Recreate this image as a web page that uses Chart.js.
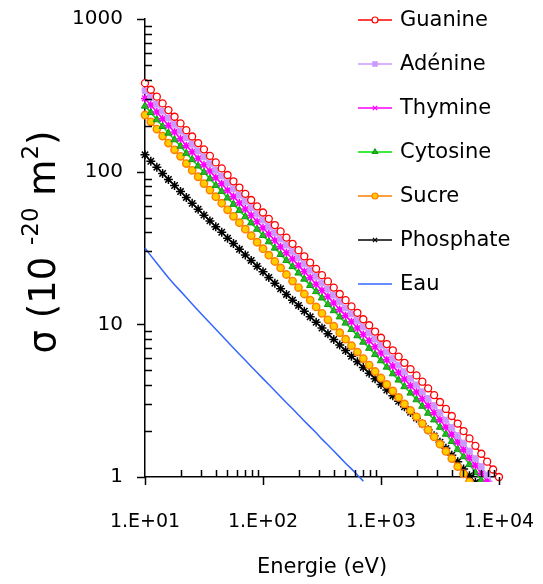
<!DOCTYPE html>
<html>
<head>
<meta charset="utf-8">
<script src="https://cdn.jsdelivr.net/npm/chart.js@4.4.1/dist/chart.umd.min.js"></script>
<style>
  html, body { margin: 0; padding: 0; background: #fff; }
  #wrap { width: 543px; height: 584px; position: relative; }
</style>
</head>
<body>
<div id="wrap"><canvas id="myChart"></canvas></div>
<script>
// énergie (eV), grille commune à toutes les séries
const energies = [10, 11.2, 12.6, 14.1, 15.8, 17.8, 20, 22.4, 25.1, 28.2,
  31.6, 35.5, 39.8, 44.7, 50.1, 56.2, 63.1, 70.8, 79.4, 89.1,
  100, 112, 126, 141, 158, 178, 200, 224, 251, 282,
  316, 355, 398, 447, 501, 562, 631, 708, 794, 891,
  1000, 1120, 1260, 1410, 1580, 1780, 2000, 2240, 2510, 2820,
  3160, 3550, 3980, 4470, 5010, 5620, 6310, 7080, 7940, 8910, 10000];

// sections efficaces (10^-20 m^2)
const guanine = [380, 344, 310, 280, 253, 229, 207, 187, 170, 154,
  140, 127, 115, 105, 95.1, 86.5, 78.7, 71.6, 65.2, 59.3,
  54.0, 49.1, 44.7, 40.6, 37.0, 33.7, 30.6, 27.9, 25.4, 23.1,
  21.0, 19.1, 17.4, 15.8, 14.4, 13.1, 11.9, 10.8, 9.86, 8.97,
  8.17, 7.43, 6.76, 6.15, 5.60, 5.09, 4.63, 4.21, 3.81, 3.44,
  3.10, 2.79, 2.51, 2.24, 2.00, 1.79, 1.60, 1.42, 1.26, 1.12, 1.00];
const adenine = [339, 306, 276, 249, 225, 204, 184, 167, 151, 137,
  125, 113, 102, 93.6, 84.7, 77.1, 70.1, 63.8, 58.1, 52.8,
  48.1, 43.7, 39.8, 36.2, 33.0, 30.0, 27.3, 24.9, 22.6, 20.6,
  18.7, 17.0, 15.5, 14.1, 12.8, 11.7, 10.6, 9.62, 8.79, 7.99,
  7.28, 6.59, 5.97, 5.41, 4.90, 4.43, 4.01, 3.62, 3.27, 2.94,
  2.64, 2.36, 2.11, 1.87, 1.67, 1.48, 1.32, 1.17, 1.03, 0.91];
const thymine = [302, 273, 246, 222, 201, 182, 164, 148, 135, 122,
  111, 101, 91.3, 83.4, 75.5, 68.7, 62.5, 56.9, 51.8, 47.1,
  42.9, 39.0, 35.5, 32.2, 29.4, 26.8, 24.3, 22.2, 20.2, 18.3,
  16.7, 15.2, 13.8, 12.5, 11.4, 10.4, 9.45, 8.58, 7.83, 7.12,
  6.49, 5.87, 5.33, 4.83, 4.38, 3.96, 3.60, 3.25, 2.93, 2.64,
  2.37, 2.12, 1.90, 1.69, 1.51, 1.34, 1.19, 1.06, 0.94];
const cytosine = [269, 244, 219, 198, 179, 162, 147, 132, 120, 109,
  99.1, 89.9, 81.4, 74.3, 67.3, 61.2, 55.7, 50.7, 46.2, 42.0,
  38.2, 34.8, 31.6, 28.7, 26.2, 23.9, 21.7, 19.8, 18.0, 16.4,
  14.9, 13.5, 12.3, 11.2, 10.2, 9.27, 8.43, 7.65, 6.98, 6.35,
  5.78, 5.25, 4.75, 4.32, 3.91, 3.55, 3.21, 2.91, 2.62, 2.37,
  2.12, 1.91, 1.71, 1.52, 1.36, 1.21, 1.07, 0.95];
const sucre = [235, 212, 190, 171, 154, 139, 126, 113, 102, 92.6,
  83.6, 75.7, 68.5, 62.1, 56.2, 51.0, 46.3, 42.0, 38.1, 34.5,
  31.3, 28.4, 25.8, 23.4, 21.2, 19.2, 17.4, 15.8, 14.4, 13.0,
  11.8, 10.7, 9.72, 8.81, 7.99, 7.25, 6.58, 5.97, 5.41, 4.91,
  4.45, 4.04, 3.66, 3.32, 3.01, 2.73, 2.48, 2.24, 2.03, 1.83,
  1.64, 1.47, 1.32, 1.17, 1.05, 0.93];
const phosphate = [129, 117, 107, 97.4, 88.9, 81.2, 74.1, 67.8, 62.0, 56.8,
  51.9, 47.6, 43.6, 40.1, 36.7, 33.8, 31.0, 28.5, 26.2, 24.0,
  22.1, 20.3, 18.6, 17.1, 15.7, 14.4, 13.3, 12.2, 11.2, 10.3,
  9.45, 8.68, 7.97, 7.32, 6.73, 6.18, 5.68, 5.22, 4.79, 4.40,
  4.04, 3.71, 3.41, 3.13, 2.88, 2.65, 2.43, 2.23, 2.04, 1.86,
  1.69, 1.54, 1.39, 1.26, 1.13, 1.02, 0.92];
const eau = [31.6, 28.2, 25.1, 22.5, 20.2, 18.2, 16.5, 15.0, 13.6, 12.3,
  11.2, 10.2, 9.29, 8.45, 7.69, 7.00, 6.37, 5.81, 5.30, 4.83,
  4.41, 4.03, 3.67, 3.36, 3.06, 2.80, 2.55, 2.33, 2.13, 1.95,
  1.77, 1.62, 1.48, 1.35, 1.23, 1.13, 1.03, 0.94];

// graduations
const xTickValues = [10, 100, 1000, 10000];
const xTickLabels = ["1.E+01", "1.E+02", "1.E+03", "1.E+04"];
const yTickValues = [1, 10, 100, 1000];
const yTickLabels = ["1", "10", "100", "1000"];

const FONT = "'Comic Sans MS', 'DejaVu Sans', sans-serif";

function toPoints(values) {
  return values.map((v, i) => ({ x: energies[i], y: v }));
}

// graduations secondaires (2..9 de chaque décade)
function minorTicks(decades) {
  const out = [];
  decades.slice(0, -1).forEach((d) => {
    for (let k = 2; k <= 9; k++) out.push(d * k);
  });
  return out;
}
const xMinor = minorTicks(xTickValues);
const yMinor = minorTicks(yTickValues);

// traits de graduation : principaux vers l'extérieur, secondaires vers l'intérieur
const tickMarksPlugin = {
  id: "tickMarks",
  afterDraw(chart) {
    const { ctx, chartArea: a, scales } = chart;
    const x = scales.x;
    const y = scales.y;
    ctx.save();
    ctx.strokeStyle = "#000";
    ctx.lineWidth = 1.5;
    ctx.beginPath();
    xMinor.forEach((v) => {
      const px = Math.round(x.getPixelForValue(v)) + 0.5;
      ctx.moveTo(px, a.bottom);
      ctx.lineTo(px, a.bottom - 7);
    });
    xTickValues.forEach((v) => {
      const px = Math.round(x.getPixelForValue(v)) + 0.5;
      ctx.moveTo(px, a.bottom);
      ctx.lineTo(px, a.bottom + 8);
    });
    yMinor.forEach((v) => {
      const py = Math.round(y.getPixelForValue(v)) + 0.5;
      ctx.moveTo(a.left, py);
      ctx.lineTo(a.left + 7, py);
    });
    yTickValues.forEach((v) => {
      const py = Math.round(y.getPixelForValue(v)) + 0.5;
      ctx.moveTo(a.left, py);
      ctx.lineTo(a.left - 8, py);
    });
    ctx.stroke();
    ctx.restore();
  },
};

// titre vertical avec exposants
const yTitlePlugin = {
  id: "yTitle",
  afterDraw(chart) {
    const ctx = chart.ctx;
    const parts = [
      { text: "σ (10 ", size: 37, rise: 0 },
      { text: "-20", size: 23, rise: 17 },
      { text: " m", size: 37, rise: 0 },
      { text: "2", size: 23, rise: 17 },
      { text: ")", size: 37, rise: 0 },
    ];
    ctx.save();
    ctx.translate(42, 242);
    ctx.rotate(-Math.PI / 2);
    ctx.fillStyle = "#000";
    ctx.textBaseline = "alphabetic";
    let total = 0;
    parts.forEach((p) => {
      ctx.font = `${p.size}px ${FONT}`;
      p.w = ctx.measureText(p.text).width;
      total += p.w;
    });
    let px = -total / 2;
    parts.forEach((p) => {
      ctx.font = `${p.size}px ${FONT}`;
      ctx.fillText(p.text, px, 13 - p.rise);
      px += p.w;
    });
    ctx.restore();
  },
};

// légende dessinée dans la zone du graphique
const legendPlugin = {
  id: "insideLegend",
  afterDraw(chart) {
    const ctx = chart.ctx;
    ctx.save();
    chart.data.datasets.forEach((ds, i) => {
      const yy = 20 + i * 44;
      ctx.strokeStyle = ds.borderColor;
      ctx.lineWidth = 1.5;
      ctx.beginPath();
      ctx.moveTo(358, yy);
      ctx.lineTo(392, yy);
      ctx.stroke();
      if (ds.pointRadius > 0 && Chart.helpers && Chart.helpers.drawPoint) {
        ctx.fillStyle = ds.pointBackgroundColor;
        ctx.strokeStyle = ds.pointBorderColor;
        ctx.lineWidth = 1.2;
        Chart.helpers.drawPoint(ctx, {
          pointStyle: ds.pointStyle === "star" ? "crossRot" : ds.pointStyle,
          rotation: 0,
          radius: 3,
          borderWidth: 1.2,
        }, 375, yy);
      }
      ctx.fillStyle = "#000";
      ctx.font = `21px ${FONT}`;
      ctx.textBaseline = "middle";
      ctx.textAlign = "left";
      ctx.fillText(ds.label, 400, yy + 1);
    });
    ctx.restore();
  },
};

function serie(label, values, color, style, fill, border, radius, bw) {
  return {
    label: label,
    data: toPoints(values),
    borderColor: color,
    backgroundColor: color,
    borderWidth: 1.5,
    pointStyle: style,
    pointRadius: radius,
    pointBackgroundColor: fill,
    pointBorderColor: border,
    pointBorderWidth: bw,
    tension: 0,
    clip: 5,
  };
}

// traits invisibles : ils ne servent qu'à écarter les étiquettes de l'axe
const hiddenGrid = (len) => ({
  display: true,
  drawOnChartArea: false,
  drawTicks: true,
  tickLength: len,
  color: "rgba(0,0,0,0)",
  tickColor: "rgba(0,0,0,0)",
});

const ctx = document.querySelector("#myChart").getContext("2d");
new Chart(ctx, {
  type: "line",
  data: {
    datasets: [
      serie("Guanine", guanine, "#FF0000", "circle", "#FFFFFF", "#FF0000", 3.5, 1.3),
      serie("Adénine", adenine, "#CC99FF", "rect", "#CC99FF", "#CC99FF", 4, 1),
      serie("Thymine", thymine, "#FF00FF", "star", "#FF00FF", "#FF00FF", 4, 1.5),
      serie("Cytosine", cytosine, "#00E000", "triangle", "#22BB22", "#119911", 4.2, 1),
      serie("Sucre", sucre, "#FF8000", "circle", "#FFCC00", "#FF8000", 3.7, 1.4),
      serie("Phosphate", phosphate, "#000000", "star", "#000000", "#000000", 4.5, 1.5),
      serie("Eau", eau, "#3366FF", "circle", "#3366FF", "#3366FF", 0, 1),
    ],
  },
  options: {
    responsive: true,
    maintainAspectRatio: false,
    animation: false,
    layout: { padding: { top: 19, right: 44, left: 0, bottom: 0 } },
    plugins: {
      legend: { display: false },
      tooltip: { enabled: false },
    },
    scales: {
      x: {
        type: "logarithmic",
        min: 10,
        max: 10000,
        afterBuildTicks: (s) => { s.ticks = xTickValues.map((v) => ({ value: v })); },
        afterFit: (s) => { s.height = 107; },
        grid: hiddenGrid(32),
        border: { display: true, color: "#000", width: 1.5 },
        ticks: {
          autoSkip: false,
          maxRotation: 0,
          padding: 2,
          color: "#000",
          font: { family: FONT, size: 19 },
          callback: (v) => {
            const i = xTickValues.indexOf(v);
            return i >= 0 ? xTickLabels[i] : "";
          },
        },
        title: {
          display: true,
          text: "Energie (eV)",
          color: "#000",
          font: { family: FONT, size: 21 },
          padding: { top: 0, bottom: 4 },
        },
      },
      y: {
        type: "logarithmic",
        min: 1,
        max: 1000,
        afterBuildTicks: (s) => { s.ticks = yTickValues.map((v) => ({ value: v })); },
        afterFit: (s) => { s.width = 145; },
        grid: hiddenGrid(20),
        border: { display: true, color: "#000", width: 1.5 },
        ticks: {
          autoSkip: false,
          padding: 2,
          color: "#000",
          font: { family: FONT, size: 20 },
          callback: (v) => {
            const i = yTickValues.indexOf(v);
            return i >= 0 ? yTickLabels[i] : "";
          },
        },
      },
    },
  },
  plugins: [tickMarksPlugin, yTitlePlugin, legendPlugin],
});
</script>
</body>
</html>
